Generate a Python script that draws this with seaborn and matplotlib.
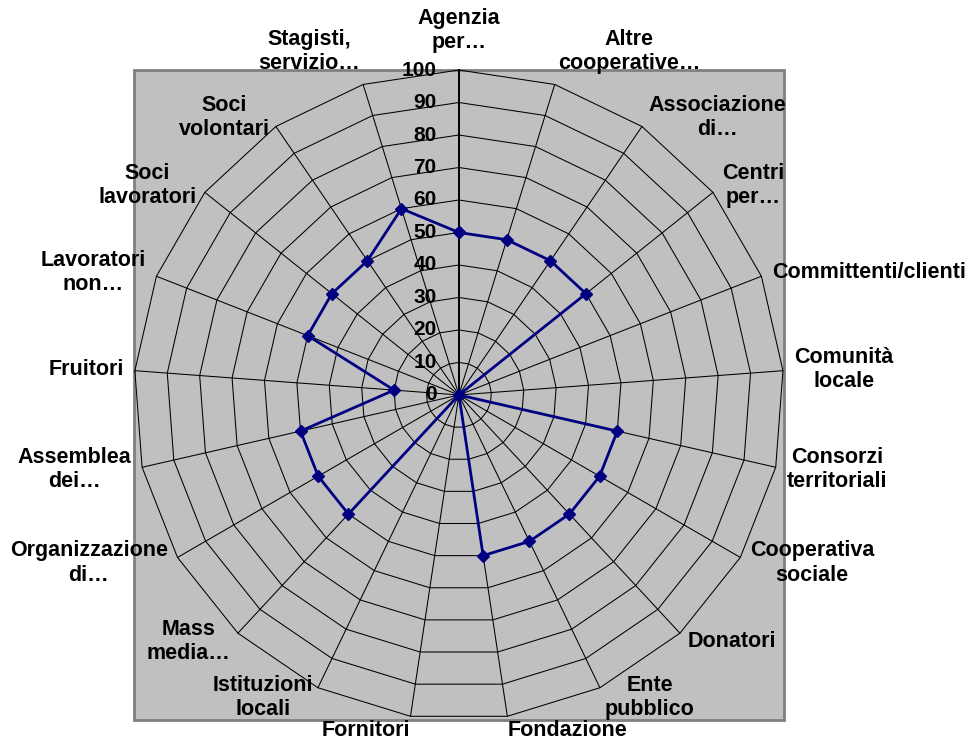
import numpy as np
import matplotlib
matplotlib.use("Agg")
import matplotlib.pyplot as plt
from matplotlib.patches import Rectangle
import seaborn as sns

# Categories (clockwise from the top) and their scores.
categories = [
    "Agenzia\nper…", "Altre\ncooperative…", "Associazione\ndi…", "Centri\nper…",
    "Committenti/clienti", "Comunità\nlocale", "Consorzi\nterritoriali",
    "Cooperativa\nsociale", "Donatori", "Ente\npubblico", "Fondazione",
    "Fornitori", "Istituzioni\nlocali", "Mass\nmedia…", "Organizzazione\ndi…",
    "Assemblea\ndei…", "Fruitori", "Lavoratori\nnon…", "Soci\nlavoratori",
    "Soci\nvolontari", "Stagisti,\nservizio…",
]
values = [50, 50, 50, 50, 0, 0, 50, 50, 50, 50, 50,
          0, 0, 50, 50, 50, 20, 50, 50, 50, 60]
ring_ticks = [0, 10, 20, 30, 40, 50, 60, 70, 80, 90, 100]

sns.set_style("white")
plt.rcParams['font.family'] = ['Liberation Sans', 'DejaVu Sans']
plt.rcParams['font.weight'] = 'bold'
plt.rcParams['text.color'] = 'black'

fig = plt.figure(figsize=(9.7, 7.42), dpi=100)
ax = fig.add_axes([0.1381, 0.0297, 0.670, 0.876], projection="polar")
ax.set_theta_zero_location("N")
ax.set_theta_direction(-1)
ax.set_ylim(0, 100)
ax.grid(False)
ax.set_xticks([])
ax.set_yticks([])
ax.spines["polar"].set_visible(False)
ax.patch.set_visible(False)

# Grey plot area (Excel style) behind everything.
ax.add_patch(Rectangle((0, 0), 1, 1, transform=ax.transAxes, facecolor="#C0C0C0",
                       edgecolor="#808080", linewidth=2, clip_on=False, zorder=0))

n = len(categories)
angles = np.linspace(0, 2 * np.pi, n, endpoint=False)
closed = np.append(angles, angles[0])

# Polygon rings and spokes.
for r in ring_ticks[1:]:
    ax.plot(closed, [r] * (n + 1), color="black", linewidth=0.75, zorder=1, clip_on=False)
for i, a in enumerate(angles):
    ax.plot([a, a], [0, 100], color="black", linewidth=1.4 if i == 0 else 0.75,
            zorder=1, clip_on=False)

# Data series.
vals = values + values[:1]
ax.plot(closed, vals, color="#000080", linewidth=2, marker="D", markersize=6,
        zorder=3, clip_on=False)

# Radial value labels along the top spoke.
for r in ring_ticks:
    ax.annotate(str(r), xy=(0, r), xytext=(-16, 0), textcoords="offset points",
                ha="right", va="center", fontsize=15, fontweight="bold", zorder=4)

# Category labels.
for a, lab in zip(angles, categories):
    s, c = np.sin(a), np.cos(a)
    ha = "left" if s > 0.05 else ("right" if s < -0.05 else "center")
    va = "bottom" if c > 0.9 else ("top" if c < -0.95 else "center")
    off = 12 if c > 0.99 else (3 if c < -0.95 else 8)
    ax.annotate(lab, xy=(a, 100), xytext=(off * s, off * c), textcoords="offset points",
                ha=ha, va=va, ma="center", fontsize=15.5, fontweight="bold",
                linespacing=1.2, annotation_clip=False)

fig.savefig("out.png", dpi=100, facecolor="white")
